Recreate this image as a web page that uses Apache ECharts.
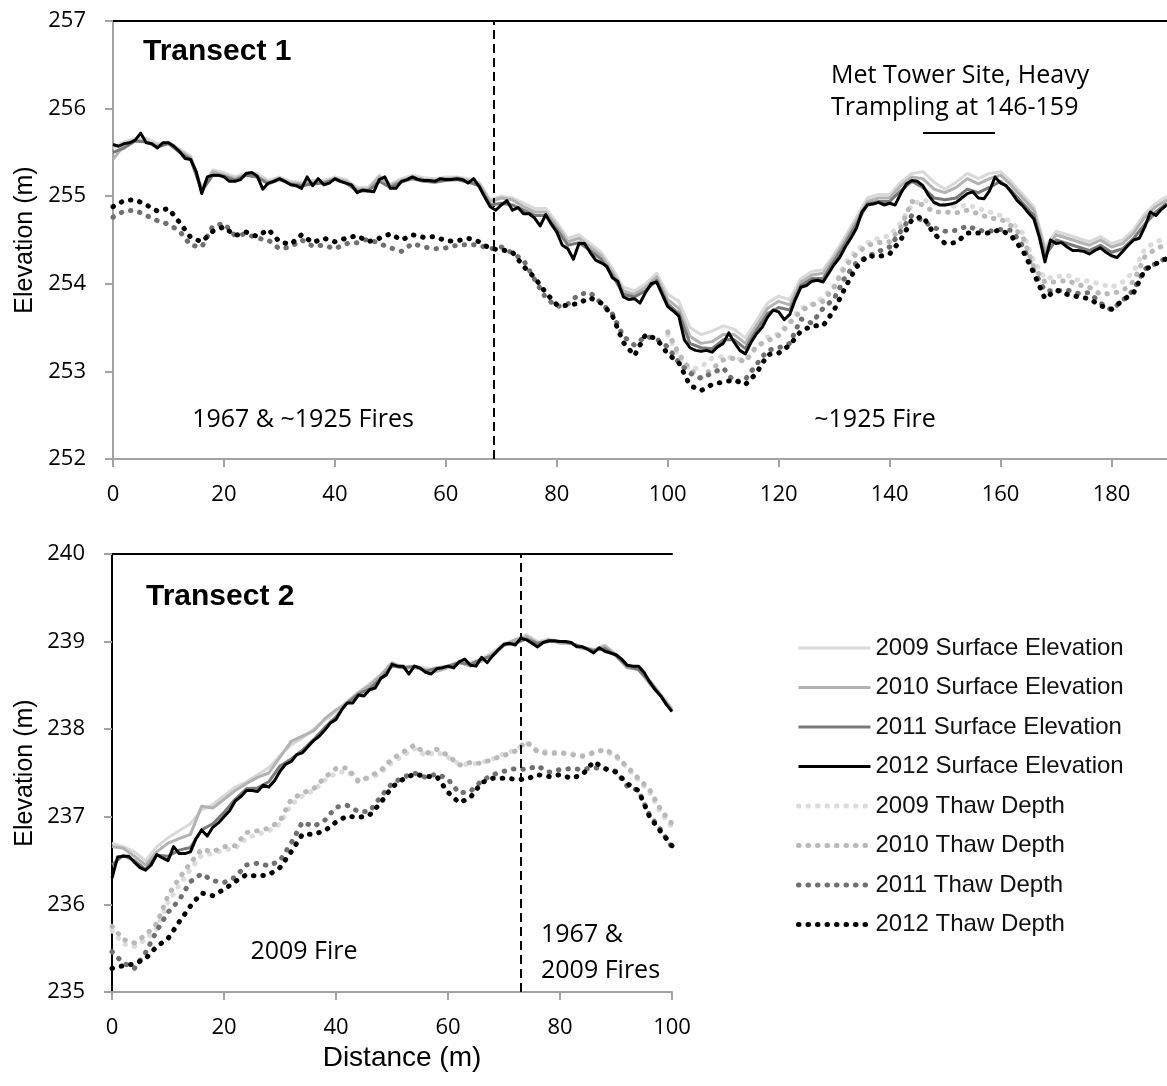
<!DOCTYPE html>
<html>
<head>
<meta charset="utf-8">
<script src="https://cdn.jsdelivr.net/npm/echarts@6/dist/echarts.min.js"></script>
<style>
  html, body { margin: 0; padding: 0; background: #fff; }
  #chart { width: 1167px; height: 1086px; }
</style>
</head>
<body>
<div id="chart"></div>
<script>
// ---------- sampling positions along each transect (m) ----------
function range(a, b, step) { const out = []; for (let v = a; v <= b + 1e-9; v += step) out.push(v); return out; }
const t1Dist1m = range(0, 190, 1);
const t1Dist2m = range(0, 190, 2);
const t1DistLate = range(100, 190, 2);   // 2009/2010 thaw probing only covered 100–190 m
const t2Dist1m = range(0, 100, 1);
const t2Dist2m = range(0, 100, 2);

// ---------- Transect 1 (elevation, m) ----------
const t1Surface2012 = [
  255.59,255.57,255.60,255.61,255.64,255.72,255.61,255.60,255.55,255.61,
  255.61,255.57,255.51,255.43,255.42,255.28,255.03,255.22,255.24,255.24,
  255.22,255.17,255.17,255.19,255.26,255.27,255.23,255.08,255.15,255.17,
  255.20,255.17,255.13,255.12,255.09,255.22,255.12,255.20,255.13,255.15,
  255.20,255.17,255.15,255.13,255.04,255.07,255.06,255.05,255.19,255.22,
  255.09,255.09,255.17,255.19,255.22,255.19,255.18,255.18,255.17,255.20,
  255.19,255.19,255.20,255.19,255.15,255.20,255.11,254.99,254.88,254.84,
  254.90,254.95,254.84,254.87,254.80,254.80,254.75,254.66,254.79,254.68,
  254.59,254.44,254.40,254.28,254.46,254.46,254.36,254.27,254.24,254.20,
  254.07,254.03,253.85,253.82,253.83,253.78,253.90,254.00,254.02,253.88,
  253.74,253.69,253.63,253.36,253.27,253.24,253.23,253.24,253.22,253.28,
  253.32,253.44,253.33,253.24,253.20,253.33,253.43,253.50,253.62,253.70,
  253.68,253.59,253.65,253.82,253.96,253.98,254.03,254.04,254.02,254.12,
  254.22,254.30,254.42,254.52,254.63,254.82,254.90,254.91,254.93,254.90,
  254.92,254.90,255.03,255.14,255.18,255.17,255.12,255.01,254.93,254.90,
  254.90,254.91,254.93,254.98,255.03,255.05,254.98,254.97,255.06,255.22,
  255.15,255.12,255.04,254.95,254.89,254.81,254.74,254.53,254.25,254.50,
  254.46,254.47,254.42,254.38,254.38,254.37,254.34,254.38,254.41,254.36,
  254.32,254.30,254.37,254.44,254.50,254.52,254.65,254.82,254.78,254.85,254.90
];
const t1Surface2011 = [
  255.50,255.55,255.63,255.62,255.56,255.60,255.50,255.42,255.06,255.24,
  255.23,255.18,255.24,255.22,255.14,255.19,255.14,255.12,255.14,255.15,
  255.19,255.15,255.06,255.06,255.17,255.10,255.16,255.20,255.17,255.16,
  255.18,255.19,255.16,255.12,254.90,
  254.92,254.90,254.84,254.78,254.78,254.62,254.44,254.47,254.38,254.28,
  254.10,253.88,253.85,253.92,254.04,253.77,253.66,253.32,253.27,253.26,
  253.36,253.36,253.26,253.47,253.66,253.73,253.70,253.98,254.06,
  254.06,254.26,254.46,254.68,254.91,254.94,254.94,255.06,255.17,255.10,
  254.98,254.96,254.98,255.08,255.04,255.10,255.17,255.06,254.92,254.78,
  254.32,254.50,254.46,254.42,254.38,254.44,254.36,254.40,254.52,254.68,
  254.82,254.92
];
const t1Surface2010 = [
  255.42,255.58,255.64,255.62,255.58,255.60,255.52,255.44,255.08,255.28,
  255.24,255.20,255.25,255.22,255.16,255.20,255.15,255.14,255.16,255.16,
  255.20,255.17,255.08,255.08,255.22,255.12,255.18,255.22,255.19,255.18,
  255.20,255.21,255.18,255.14,254.94,
  254.98,254.96,254.88,254.82,254.82,254.66,254.48,254.52,254.42,254.32,
  254.14,253.92,253.88,253.96,254.08,253.82,253.72,253.40,253.32,253.34,
  253.42,253.42,253.32,253.52,253.72,253.80,253.76,254.02,254.10,
  254.12,254.30,254.50,254.72,254.94,254.98,254.98,255.12,255.22,255.20,
  255.08,255.04,255.10,255.20,255.14,255.20,255.24,255.12,254.98,254.84,
  254.38,254.56,254.52,254.48,254.44,254.50,254.42,254.46,254.58,254.76,
  254.88,254.96
];
const t1Surface2009 = [
  255.55,255.62,255.66,255.66,255.60,255.62,255.54,255.46,255.10,255.30,
  255.27,255.22,255.27,255.26,255.18,255.22,255.17,255.16,255.18,255.18,
  255.22,255.19,255.10,255.10,255.24,255.14,255.20,255.24,255.21,255.20,
  255.22,255.22,255.20,255.16,254.96,
  255.00,254.98,254.92,254.86,254.86,254.70,254.52,254.56,254.46,254.36,
  254.18,253.96,253.92,254.00,254.12,253.88,253.80,253.50,253.42,253.46,
  253.52,253.48,253.38,253.58,253.78,253.86,253.82,254.06,254.14,
  254.16,254.34,254.54,254.76,254.98,255.02,255.02,255.16,255.26,255.28,
  255.16,255.08,255.16,255.26,255.20,255.26,255.28,255.16,255.02,254.88,
  254.42,254.60,254.56,254.52,254.48,254.54,254.46,254.50,254.62,254.80,
  254.92,255.00
];
const t1Thaw2012 = [
  254.88,254.95,254.96,254.90,254.83,254.86,254.70,254.53,254.48,254.60,
  254.65,254.55,254.59,254.54,254.62,254.48,254.45,254.56,254.47,254.52,
  254.48,254.52,254.55,254.48,254.52,254.57,254.50,254.56,254.53,254.54,
  254.49,254.49,254.52,254.48,254.40,
  254.39,254.36,254.20,254.07,253.90,253.76,253.75,253.78,253.84,253.78,
  253.64,253.33,253.18,253.42,253.37,253.20,253.10,252.84,252.78,252.85,
  252.88,252.90,252.85,252.98,253.19,253.21,253.30,253.46,253.52,
  253.52,253.70,253.96,254.19,254.32,254.31,254.34,254.50,254.73,254.77,
  254.57,254.46,254.47,254.58,254.58,254.58,254.62,254.54,254.38,254.12,
  253.83,253.93,253.88,253.85,253.83,253.75,253.71,253.81,253.90,254.16,
  254.23,254.29
];
const t1Thaw2011 = [
  254.76,254.83,254.84,254.78,254.72,254.68,254.60,254.44,254.42,254.66,
  254.69,254.55,254.57,254.52,254.50,254.40,254.42,254.50,254.43,254.44,
  254.40,254.46,254.47,254.51,254.46,254.41,254.37,254.46,254.42,254.40,
  254.41,254.44,254.45,254.44,254.40,
  254.42,254.35,254.27,254.05,253.84,253.74,253.77,253.88,253.90,253.78,
  253.66,253.40,253.30,253.40,253.37,253.28,253.10,252.98,252.92,252.98,
  253.04,252.88,252.91,253.08,253.24,253.27,253.32,253.60,253.55,
  253.72,253.83,254.08,254.24,254.31,254.37,254.42,254.60,254.78,254.72,
  254.64,254.60,254.61,254.66,254.61,254.60,254.62,254.61,254.43,254.15,
  253.92,253.92,253.93,253.89,253.90,253.78,253.70,253.81,253.93,254.17,
  254.23,254.30
];
const t1Thaw2010 = [
  253.45,253.20,253.02,252.93,253.03,253.13,253.15,253.11,253.29,253.35,
  253.41,253.55,253.69,253.76,253.80,253.96,254.20,254.34,254.44,254.47,
  254.48,254.64,254.94,254.90,254.82,254.82,254.81,254.84,254.80,254.75,
  254.74,254.66,254.54,254.19,254.02,254.02,254.04,253.99,253.96,253.88,
  253.89,253.92,254.03,254.31,254.40,254.45
];
const t1Thaw2009 = [
  253.42,253.16,253.02,253.05,253.15,253.17,253.15,253.13,253.27,253.39,
  253.43,253.57,253.72,253.77,253.84,253.98,254.24,254.38,254.47,254.52,
  254.55,254.70,254.90,254.96,254.92,254.90,254.88,254.90,254.86,254.82,
  254.78,254.70,254.58,254.26,254.06,254.08,254.10,254.04,254.03,254.00,
  253.96,254.02,254.14,254.40,254.48,254.52
];

// ---------- Transect 2 (elevation, m) ----------
const t2Surface2012 = [
  236.30,236.54,236.55,236.55,236.48,236.42,236.39,236.45,236.57,236.53,
  236.50,236.66,236.58,236.58,236.60,236.75,236.85,236.78,236.88,236.93,
  237.00,237.07,237.18,237.23,237.30,237.30,237.29,237.36,237.34,237.41,
  237.52,237.60,237.63,237.71,237.73,237.80,237.87,237.92,237.99,238.07,
  238.11,238.22,238.30,238.30,238.39,238.38,238.45,238.47,238.58,238.62,
  238.74,238.72,238.72,238.63,238.72,238.70,238.65,238.63,238.69,238.70,
  238.72,238.70,238.77,238.80,238.73,238.72,238.82,238.76,238.84,238.91,
  238.97,238.98,238.96,239.04,239.02,238.98,238.94,238.99,239.01,239.01,
  239.00,239.00,238.99,238.94,238.94,238.91,238.87,238.93,238.89,238.87,
  238.85,238.80,238.73,238.72,238.72,238.65,238.54,238.45,238.38,238.28,238.20
];
const t2Surface2011 = [
  236.45,236.56,236.50,236.40,236.56,236.55,236.62,236.65,236.85,236.92,
  237.05,237.20,237.32,237.33,237.40,237.58,237.66,237.76,237.88,238.02,
  238.14,238.30,238.40,238.46,238.58,238.72,238.70,238.72,238.66,238.70,
  238.72,238.76,238.74,238.80,238.84,238.96,238.98,239.03,238.98,239.00,
  239.00,238.98,238.94,238.90,238.92,238.84,238.72,238.68,238.55,238.38,238.21
];
const t2Surface2010 = [
  236.66,236.64,236.55,236.45,236.60,236.70,236.75,236.80,237.12,237.10,
  237.20,237.30,237.38,237.45,237.50,237.68,237.86,237.92,237.98,238.12,
  238.22,238.30,238.42,238.50,238.62,238.76,238.70,238.70,238.68,238.66,
  238.70,238.76,238.72,238.78,238.86,238.96,239.02,239.06,238.98,239.02,
  238.98,238.98,238.92,238.90,238.95,238.84,238.70,238.68,238.52,238.38,238.22
];
const t2Surface2009 = [
  236.70,236.66,236.60,236.50,236.66,236.76,236.84,236.92,237.08,237.14,
  237.24,237.34,237.40,237.48,237.56,237.70,237.82,237.90,238.00,238.10,
  238.20,238.32,238.42,238.52,238.62,238.74,238.72,238.72,238.70,238.68,
  238.72,238.78,238.76,238.80,238.88,238.98,239.02,239.08,239.00,239.03,
  239.00,238.98,238.94,238.91,238.96,238.86,238.74,238.70,238.56,238.40,238.24
];
const t2Thaw2012 = [
  235.27,235.30,235.32,235.38,235.52,235.61,235.80,235.98,236.13,236.10,
  236.17,236.26,236.34,236.32,236.34,236.42,236.60,236.80,236.80,236.84,
  236.94,237.01,236.99,237.02,237.16,237.34,237.43,237.49,237.46,237.46,
  237.28,237.16,237.22,237.39,237.44,237.44,237.43,237.43,237.48,237.46,
  237.48,237.44,237.48,237.63,237.55,237.51,237.38,237.30,237.00,236.83,236.67
];
const t2Thaw2011 = [
  235.46,235.33,235.27,235.45,235.70,235.91,236.05,236.26,236.35,236.27,
  236.25,236.31,236.45,236.47,236.44,236.50,236.70,236.94,236.89,236.96,
  237.11,237.13,237.06,237.06,237.23,237.38,237.45,237.50,237.45,237.49,
  237.43,237.27,237.29,237.41,237.48,237.52,237.55,237.54,237.58,237.51,
  237.54,237.55,237.54,237.56,237.55,237.52,237.35,237.30,237.02,236.85,236.65
];
const t2Thaw2010 = [
  235.75,235.60,235.56,235.65,235.78,236.10,236.30,236.47,236.63,236.60,
  236.66,236.67,236.82,236.84,236.87,236.95,237.20,237.27,237.32,237.45,
  237.55,237.56,237.40,237.46,237.53,237.66,237.74,237.82,237.72,237.77,
  237.70,237.59,237.62,237.61,237.66,237.70,237.75,237.86,237.74,237.72,
  237.73,237.71,237.69,237.73,237.77,237.70,237.57,237.44,237.31,237.08,236.92
];
const t2Thaw2009 = [
  235.70,235.55,235.52,235.60,235.72,236.02,236.22,236.40,236.56,236.58,
  236.62,236.64,236.76,236.80,236.84,236.92,237.14,237.24,237.30,237.42,
  237.50,237.52,237.42,237.44,237.50,237.62,237.70,237.78,237.70,237.74,
  237.68,237.60,237.60,237.62,237.66,237.72,237.76,237.84,237.76,237.74,
  237.74,237.72,237.70,237.74,237.76,237.68,237.56,237.42,237.28,237.04,236.88
];

// ---------- annotations ----------
const fireBoundary1 = 68.7;     // burn boundary on transect 1 (m)
const fireBoundary2 = 73;       // burn boundary on transect 2 (m)
const tramplingStart = 146, tramplingEnd = 159, tramplingBarLevel = 255.72;

// ---------- styling ----------
const years = ['2009', '2010', '2011', '2012'];
const surfaceColors = ['#d9d9d9', '#b3b3b3', '#7a7a7a', '#000000'];
const thawColors = ['#dcdcdc', '#b9b9b9', '#707070', '#000000'];
const surfaceNames = years.map(y => y + ' Surface Elevation');
const thawNames = years.map(y => y + ' Thaw Depth');

const pairs = (xs, ys) => xs.map((x, i) => [x, ys[i]]);

function surfaceSeries(i, xIdx, yIdx, data) {
  return {
    type: 'line', name: surfaceNames[i], xAxisIndex: xIdx, yAxisIndex: yIdx,
    data, showSymbol: false, symbol: 'none', silent: true, z: 3 + i,
    lineStyle: { color: surfaceColors[i], width: 3, join: 'round' },
    itemStyle: { color: surfaceColors[i] }
  };
}
function thawSeries(i, xIdx, yIdx, data) {
  return {
    type: 'line', name: thawNames[i], xAxisIndex: xIdx, yAxisIndex: yIdx,
    data, showSymbol: false, symbol: 'none', silent: true, z: 2,
    lineStyle: { color: thawColors[i], width: 5, type: [0.5, 9], cap: 'round', join: 'round' },
    itemStyle: { color: thawColors[i] }
  };
}

const tickFont = { fontFamily: 'Open Sans', fontSize: 22, color: '#000' };
const axisGray = { lineStyle: { color: '#a3a3a3', width: 2 } };

function valueX(gridIndex, max, show) {
  return {
    type: 'value', gridIndex, min: 0, max, interval: 20, position: 'bottom',
    axisLine: { show: true, onZero: false, ...axisGray },
    axisTick: { show: true, length: 8, ...axisGray },
    axisLabel: { ...tickFont, margin: 25, showMaxLabel: show },
    splitLine: { show: false }
  };
}
function valueY(gridIndex, min, max) {
  return {
    type: 'value', gridIndex, min, max, interval: 1,
    axisLine: { show: true, ...axisGray },
    axisTick: { show: true, length: 8, ...axisGray },
    axisLabel: { ...tickFont, margin: 27 },
    splitLine: { show: false }
  };
}
function frameX(gridIndex, max) {
  return {
    type: 'value', gridIndex, min: 0, max, position: 'top',
    axisLine: { show: true, lineStyle: { color: '#000', width: 2 } },
    axisTick: { show: false }, axisLabel: { show: false }, splitLine: { show: false }
  };
}

const dashStyle = { color: '#000', width: 2, type: [9, 5] };

const series = [];
// transect 1
series.push(surfaceSeries(0, 0, 0, pairs(t1Dist2m, t1Surface2009)));
series.push(surfaceSeries(1, 0, 0, pairs(t1Dist2m, t1Surface2010)));
series.push(surfaceSeries(2, 0, 0, pairs(t1Dist2m, t1Surface2011)));
const s1 = surfaceSeries(3, 0, 0, pairs(t1Dist1m, t1Surface2012));
s1.markLine = {
  silent: true, symbol: 'none', label: { show: false },
  lineStyle: { color: '#000', width: 2, type: 'solid' },
  data: [[{ coord: [tramplingStart, tramplingBarLevel] }, { coord: [tramplingEnd, tramplingBarLevel] }]]
};
series.push(s1);
series.push(thawSeries(0, 0, 0, pairs(t1DistLate, t1Thaw2009)));
series.push(thawSeries(1, 0, 0, pairs(t1DistLate, t1Thaw2010)));
series.push(thawSeries(2, 0, 0, pairs(t1Dist2m, t1Thaw2011)));
const th1 = thawSeries(3, 0, 0, pairs(t1Dist2m, t1Thaw2012));
th1.markLine = { silent: true, symbol: 'none', label: { show: false }, lineStyle: dashStyle, data: [{ xAxis: fireBoundary1 }] };
series.push(th1);
// transect 2
series.push(surfaceSeries(0, 1, 1, pairs(t2Dist2m, t2Surface2009)));
series.push(surfaceSeries(1, 1, 1, pairs(t2Dist2m, t2Surface2010)));
series.push(surfaceSeries(2, 1, 1, pairs(t2Dist2m, t2Surface2011)));
series.push(surfaceSeries(3, 1, 1, pairs(t2Dist1m, t2Surface2012)));
series.push(thawSeries(0, 1, 1, pairs(t2Dist2m, t2Thaw2009)));
series.push(thawSeries(1, 1, 1, pairs(t2Dist2m, t2Thaw2010)));
series.push(thawSeries(2, 1, 1, pairs(t2Dist2m, t2Thaw2011)));
const th2 = thawSeries(3, 1, 1, pairs(t2Dist2m, t2Thaw2012));
th2.markLine = { silent: true, symbol: 'none', label: { show: false }, lineStyle: dashStyle, data: [{ xAxis: fireBoundary2 }] };
series.push(th2);

const noteFont = { fontFamily: 'Open Sans', fontSize: 25, fill: '#000' };
const text = (x, y, t, extra) => ({
  type: 'text', x, y, silent: true,
  style: Object.assign({ text: t, align: 'center', verticalAlign: 'middle' }, noteFont, extra || {})
});
const axisTitle = { align: 'center', verticalAlign: 'middle', fontFamily: 'Liberation Sans', fill: '#000' };

const option = {
  animation: false,
  backgroundColor: '#fff',
  grid: [
    { left: 113, top: 21, width: 1058, height: 438 },
    { left: 112, top: 554, width: 560, height: 438 }
  ],
  xAxis: [valueX(0, 190, false), valueX(1, 100, true), frameX(0, 190), frameX(1, 100)],
  yAxis: [
    valueY(0, 252, 257), valueY(1, 235, 240),
    { type: 'value', gridIndex: 1, min: 235, max: 240, position: 'right',
      axisLine: { show: true, lineStyle: { color: '#000', width: 2 } },
      axisTick: { show: false }, axisLabel: { show: false }, splitLine: { show: false } }
  ],
  legend: {
    data: surfaceNames.concat(thawNames),
    orient: 'vertical', left: 796, top: 636, padding: 0,
    itemWidth: 72, itemHeight: 24, itemGap: 15.5,
    selectedMode: false,
    textStyle: { fontFamily: 'Liberation Sans', fontSize: 24, color: '#111', lineHeight: 24 },
    itemStyle: { opacity: 0 },
    lineStyle: { width: 'inherit', type: 'inherit' }
  },
  series,
  graphic: [
    text(143, 52, 'Transect 1', { align: 'left', fontFamily: 'Liberation Sans', fontWeight: 'bold', fontSize: 30 }),
    text(146, 597, 'Transect 2', { align: 'left', fontFamily: 'Liberation Sans', fontWeight: 'bold', fontSize: 30 }),
    text(831, 76, 'Met Tower Site, Heavy', { align: 'left' }),
    text(831, 108, 'Trampling at 146-159', { align: 'left' }),
    text(303, 420, '1967 & ~1925 Fires'),
    text(875, 420, '~1925 Fire'),
    text(304, 952, '2009 Fire'),
    text(541, 935, '1967 &', { align: 'left' }),
    text(541, 971, '2009 Fires', { align: 'left' }),
    { type: 'text', x: 25, y: 240, rotation: Math.PI / 2, silent: true,
      style: Object.assign({ text: 'Elevation (m)', fontSize: 25 }, axisTitle) },
    { type: 'text', x: 25, y: 773, rotation: Math.PI / 2, silent: true,
      style: Object.assign({ text: 'Elevation (m)', fontSize: 25 }, axisTitle) },
    { type: 'text', x: 402, y: 1058, silent: true,
      style: Object.assign({ text: 'Distance (m)', fontSize: 28 }, axisTitle) }
  ]
};

const chart = echarts.init(document.getElementById('chart'), null, { renderer: 'canvas' });
chart.setOption(option);
</script>
</body>
</html>
